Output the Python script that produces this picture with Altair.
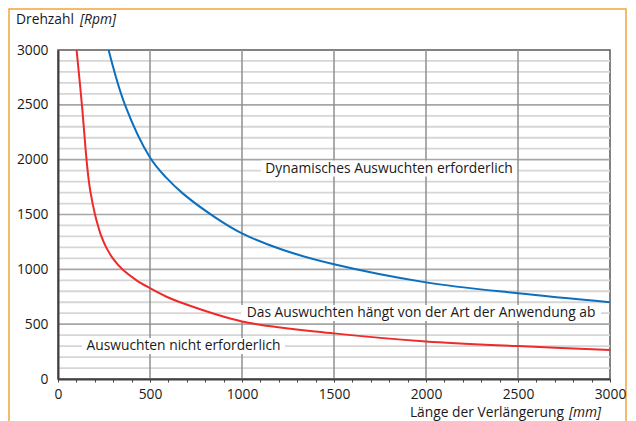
import altair as alt
import pandas as pd

# ---- data ----
red_len = [101, 130, 155, 168, 177, 201, 217, 236, 262, 298, 350, 427, 500, 587, 663,
           1000, 1500, 2000, 2500, 3000]
red_rpm = [3000, 2500, 2000, 1800, 1700, 1500, 1400, 1300, 1200, 1100, 1000, 900, 828, 752, 700,
           525, 416, 343, 300, 264]
blue_len = [275, 364, 500, 587, 681, 862, 1000, 1224, 1500, 2000, 2500, 3000]
blue_rpm = [3000, 2500, 2020, 1838, 1688, 1465, 1328, 1176, 1046, 881, 781, 699]

x_ticks = list(range(0, 3001, 100))
x_grid = [500, 1000, 1500, 2000, 2500]
y_ticks = [0, 500, 1000, 1500, 2000, 2500, 3000]
y_major = [500, 1000, 1500, 2000, 2500]
y_minor = [v for v in range(100, 3000, 100) if v % 500]

note_text = ["Dynamisches Auswuchten erforderlich",
             "Das Auswuchten hängt von der Art der Anwendung ab",
             "Auswuchten nicht erforderlich"]
note_len = [1799, 1973, 682]
note_rpm = [1919, 602, 300]
note_box_w = [256, 360, 203]

W, H = 552, 329
FONT = "Open Sans"
FS = 13.8
TXT = "#1a1a1a"

xscale = alt.Scale(domain=[0, 3000], nice=False, zero=False)
yscale = alt.Scale(domain=[0, 3000], nice=False, zero=False)

xaxis = alt.Axis(values=x_ticks, format="d",
                 labelExpr="datum.value % 500 === 0 ? datum.label : ''",
                 labelOverlap=False, labelFlush=False, grid=False,
                 tickSize=3, tickColor="#404040", tickWidth=1,
                 domainColor="#404040", domainWidth=2,
                 labelFont=FONT, labelFontSize=FS, labelColor=TXT,
                 labelPadding=5, title=None, zindex=1)
yaxis = alt.Axis(values=y_ticks, format="d", labelOverlap=False,
                 labelFlush=False, grid=False, tickSize=0,
                 domainColor="#404040", domainWidth=2,
                 labelFont=FONT, labelFontSize=FS, labelColor=TXT,
                 labelPadding=10, title=None, zindex=1)


def X(field):
    return alt.X(field, type="quantitative", scale=xscale, axis=xaxis)


def Y(field):
    return alt.Y(field, type="quantitative", scale=yscale, axis=yaxis)


minor = alt.Chart(pd.DataFrame({"v": y_minor})).mark_rule(
    color="#d6d6d6", strokeWidth=1.8).encode(y=Y("v"))
major = alt.Chart(pd.DataFrame({"v": y_major})).mark_rule(
    color="#a6a6a6", strokeWidth=1.6).encode(y=Y("v"))
vert = alt.Chart(pd.DataFrame({"v": x_grid})).mark_rule(
    color="#8f8f8f", strokeWidth=1.5).encode(x=X("v"))

notes = pd.DataFrame({"t": note_text, "x": note_len, "y": note_rpm})

boxes = []
box_h = 16
for i, w in enumerate(note_box_w):
    hh = box_h / w
    path = f"M-1,{-hh:.4f}H1V{hh:.4f}H-1Z"
    boxes.append(
        alt.Chart(notes.iloc[[i]]).mark_point(
            shape=path, size=w * w, filled=True, fill="white",
            opacity=1, strokeWidth=0).encode(x=X("x"), y=Y("y")))

red = alt.Chart(pd.DataFrame({"x": red_len, "y": red_rpm})).mark_line(
    color="#ee2a2a", strokeWidth=2, interpolate="catmull-rom", clip=True
).encode(x=X("x"), y=Y("y"))
blue = alt.Chart(pd.DataFrame({"x": blue_len, "y": blue_rpm})).mark_line(
    color="#0b6fbf", strokeWidth=2, interpolate="catmull-rom", clip=True
).encode(x=X("x"), y=Y("y"))

texts = alt.Chart(notes).mark_text(
    font=FONT, fontSize=FS, color=TXT, align="center", baseline="middle"
).encode(x=X("x"), y=Y("y"), text="t:N")

one = pd.DataFrame({"a": [0]})
title_a = alt.Chart(one).mark_text(
    text="Drehzahl", font=FONT, fontSize=FS, color=TXT, align="left",
    baseline="alphabetic").encode(x=alt.value(-42), y=alt.value(-26))
title_b = alt.Chart(one).mark_text(
    text="[Rpm]", font=FONT, fontSize=FS, fontStyle="italic", color=TXT,
    align="left", baseline="alphabetic").encode(x=alt.value(22), y=alt.value(-26))
xt_a = alt.Chart(one).mark_text(
    text="Länge der Verlängerung", font=FONT, fontSize=FS, color=TXT,
    align="right", baseline="alphabetic").encode(x=alt.value(506), y=alt.value(H + 38))
xt_b = alt.Chart(one).mark_text(
    text="[mm]", font=FONT, fontSize=FS, fontStyle="italic", color=TXT,
    align="left", baseline="alphabetic").encode(x=alt.value(511), y=alt.value(H + 38))

frame = alt.Chart(one).mark_rect(
    fillOpacity=0, stroke="#f5a33c", strokeWidth=1.5, clip=False
).encode(x=alt.value(-49), x2=alt.value(568), y=alt.value(-41), y2=alt.value(H + 60))

chart = alt.layer(
    minor, major, vert, *boxes, red, blue, texts,
    title_a, title_b, xt_a, xt_b, frame
).properties(
    width=W, height=H,
    autosize=alt.AutoSizeParams(type="none"),
    padding={"left": 50, "top": 42, "right": 18, "bottom": 42},
    background="white",
).configure_view(stroke="#595959", strokeWidth=1.5)

chart.save("out.html", embed_options={"renderer": "svg", "actions": False})
